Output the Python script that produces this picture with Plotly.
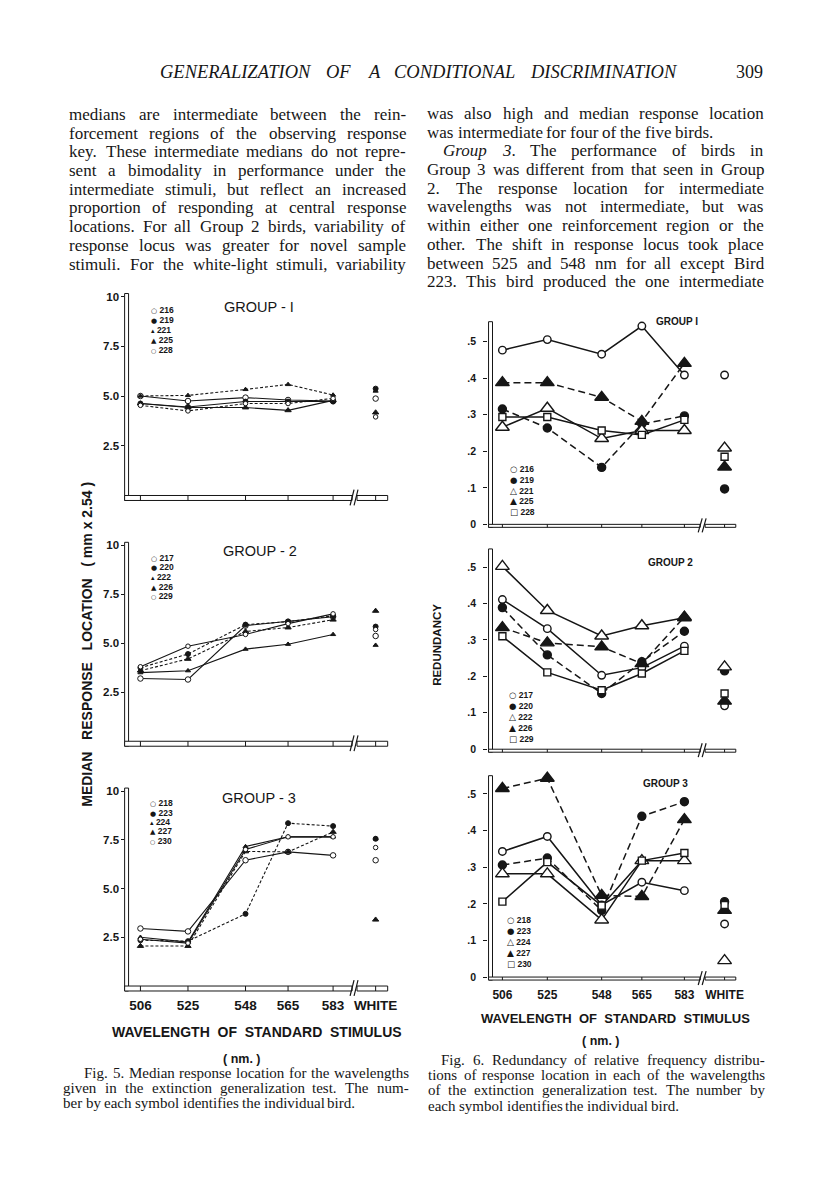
import re
import plotly.graph_objects as go

W, H = 816, 1193
INK = "#161616"

# ---------------- data ----------------
WAVELENGTHS = [506, 525, 548, 565, 583]
WHITE_POS = 600
X_TICK_TEXT = ["506", "525", "548", "565", "583", "WHITE"]

# Fig. 5  median response location (mm x 2.54)
F5_G1_BIRDS = ["216", "219", "221", "225", "228"]
F5_G1_216 = [5.0, 4.75, 4.92, 4.80, 4.75]
F5_G1_219 = [4.62, 4.45, 4.72, 4.72, 4.72]
F5_G1_221 = [5.0, 5.03, 5.33, 5.58, 5.05]
F5_G1_225 = [4.62, 4.42, 4.42, 4.28, 4.78]
F5_G1_228 = [4.53, 4.25, 4.62, 4.62, 4.88]
F5_G1_WHITE = [4.87, 5.37, 5.25, 4.17, 3.95]

F5_G2_BIRDS = ["217", "220", "222", "226", "229"]
F5_G2_217 = [3.20, 3.15, 5.90, 6.10, 6.35]
F5_G2_220 = [3.75, 4.45, 5.95, 6.10, 6.40]
F5_G2_222 = [3.50, 3.60, 4.70, 4.95, 5.45]
F5_G2_226 = [3.60, 4.20, 5.60, 5.80, 6.20]
F5_G2_229 = [3.80, 4.85, 5.45, 6.00, 6.50]
F5_G2_WHITE = [5.37, 5.85, 4.90, 6.65, 5.70]

F5_G3_BIRDS = ["218", "223", "224", "227", "230"]
F5_G3_218 = [2.95, 2.80, 6.45, 6.88, 6.70]
F5_G3_223 = [2.35, 2.30, 3.70, 8.35, 8.20]
F5_G3_224 = [2.50, 2.25, 7.15, 7.65, 7.65]
F5_G3_227 = [2.05, 2.05, 6.90, 6.88, 7.90]
F5_G3_230 = [2.40, 2.20, 7.00, 7.65, 7.65]
F5_G3_WHITE = [6.45, 7.55, 7.55, 3.40, 7.10]

# Fig. 6  redundancy
F6_G1_BIRDS = ["216", "219", "221", "225", "228"]
F6_G1_216 = [0.477, 0.506, 0.466, 0.543, 0.409]
F6_G1_219 = [0.316, 0.264, 0.156, 0.275, 0.297]
F6_G1_221 = [0.266, 0.318, 0.235, 0.257, 0.257]
F6_G1_225 = [0.388, 0.388, 0.348, 0.282, 0.441]
F6_G1_228 = [0.294, 0.294, 0.257, 0.245, 0.286]
F6_G1_WHITE = [0.409, 0.097, 0.209, 0.157, 0.185]

F6_G2_BIRDS = ["217", "220", "222", "226", "229"]
F6_G2_217 = [0.411, 0.331, 0.203, 0.224, 0.283]
F6_G2_220 = [0.389, 0.259, 0.153, 0.240, 0.324]
F6_G2_222 = [0.502, 0.381, 0.311, 0.339, 0.361]
F6_G2_226 = [0.334, 0.292, 0.281, 0.235, 0.363]
F6_G2_229 = [0.310, 0.211, 0.162, 0.208, 0.270]
F6_G2_WHITE = [0.119, 0.215, 0.226, 0.132, 0.153]

F6_G3_BIRDS = ["218", "223", "224", "227", "230"]
F6_G3_218 = [0.343, 0.384, 0.197, 0.259, 0.236]
F6_G3_223 = [0.306, 0.325, 0.182, 0.439, 0.479]
F6_G3_224 = [0.282, 0.282, 0.156, 0.318, 0.318]
F6_G3_227 = [0.515, 0.543, 0.223, 0.220, 0.430]
F6_G3_230 = [0.206, 0.314, 0.195, 0.318, 0.339]
F6_G3_WHITE = [0.145, 0.206, 0.045, 0.182, 0.197]

F5_YTICKS = [2.5, 5.0, 7.5, 10]
F5_YTICK_TEXT = ["2.5", "5.0", "7.5", "10"]
F6_YTICKS = [0, 0.1, 0.2, 0.3, 0.4, 0.5]
F6_YTICK_TEXT = ["0", ".1", ".2", ".3", ".4", ".5"]

HEADER = "GENERALIZATION OF A CONDITIONAL DISCRIMINATION"
PAGE_NO = "309"
LEFT_COL = [
    "medians are intermediate between the rein-",
    "forcement regions of the observing response",
    "key. These intermediate medians do not repre-",
    "sent a bimodality in performance under the",
    "intermediate stimuli, but reflect an increased",
    "proportion of responding at central response",
    "locations. For all Group 2 birds, variability of",
    "response locus was greater for novel sample",
    "stimuli. For the white-light stimuli, variability",
]
RIGHT_COL = [
    "was also high and median response location",
    "was intermediate for four of the five birds.",
    "<i>Group</i> <i>3</i>. The performance of birds in",
    "Group 3 was different from that seen in Group",
    "2. The response location for intermediate",
    "wavelengths was not intermediate, but was",
    "within either one reinforcement region or the",
    "other. The shift in response locus took place",
    "between 525 and 548 nm for all except Bird",
    "223. This bird produced the one intermediate",
]
CAP5 = [
    "Fig. 5. Median response location for the wavelengths",
    "given in the extinction generalization test. The num-",
    "ber by each symbol identifies the individual bird.",
]
CAP6 = [
    "Fig. 6. Redundancy of relative frequency distribu-",
    "tions of response location in each of the wavelengths",
    "of the extinction generalization test. The number by",
    "each symbol identifies the individual bird.",
]
XTITLE = "WAVELENGTH  OF  STANDARD  STIMULUS"
XUNIT = "( nm. )"
F5_YTITLE_WORDS = ["MEDIAN", "RESPONSE", "LOCATION", "( mm x 2.54 )"]
F6_YTITLE = "REDUNDANCY"

# ---------------- styles ----------------
F5_SYMBOLS = ["circle", "circle", "triangle-up", "triangle-up", "circle"]
F5_FILLED = [False, True, True, True, False]
F5_SIZES = [5.5, 5, 4.5, 5.5, 4.5]
F5_DASH = [["solid", "solid", "3px,2px", "solid", "3px,2px"],
           ["solid", "3px,2px", "solid", "3px,2px", "solid"],
           ["solid", "3px,2px", "solid", "3px,2px", "solid"]]
F5_GLYPHS = ["○", "●", "▴", "▲", "○"]
F5_GLYPH_SIZES = [7, 7, 7, 7, 6]

F6_SYMBOLS = ["circle", "circle", "triangle-up", "triangle-up", "square"]
F6_FILLED = [False, True, False, True, False]
F6_SIZES = [7.5, 8, 12, 12, 7]
F6_DASH = ["solid", "7px,4px", "solid", "7px,4px", "solid"]
F6_GLYPHS = ["○", "●", "△", "▲", "□"]
F6_GLYPH_SIZES = [8.5, 8.5, 9, 9, 8.5]

TIMES = {c: w for c, w in zip("abcdefghijklmnopqrstuvwxyz",
         [444, 500, 444, 500, 444, 333, 500, 500, 278, 278, 500, 278, 778,
          500, 500, 500, 500, 333, 389, 278, 500, 500, 722, 500, 500, 444])}
TIMES.update({c: w for c, w in zip("ABCDEFGHIJKLMNOPQRSTUVWXYZ",
              [722, 667, 667, 722, 611, 556, 722, 722, 333, 389, 722, 611, 889,
               722, 722, 556, 722, 667, 556, 611, 722, 722, 944, 722, 722, 611])})
TIMES.update({" ": 250, ".": 250, ",": 250, "-": 333, "(": 333, ")": 333})
TIMES.update({d: 500 for d in "0123456789"})
TIMES_IT_CAPS = {"A": 611, "C": 667, "D": 722, "E": 611, "F": 611, "G": 722, "I": 333,
                 "L": 556, "M": 833, "N": 667, "O": 722, "R": 611, "S": 500, "T": 556, "Z": 556}

annotations = []
shapes = []


def plain(s):
    return re.sub(r"<[^>]+>", "", s)


def tw(s, size, table=TIMES):
    return sum(table.get(c, 500) for c in plain(s)) / 1000.0 * size


def ann(text, xpx, ypx, size, family="Liberation Serif", xanchor="left", yanchor="middle",
        bold=False, italic=False, angle=0):
    annotations.append(dict(
        text=text, x=xpx / W, y=1 - ypx / H, xref="paper", yref="paper", showarrow=False,
        xanchor=xanchor, yanchor=yanchor, textangle=angle, borderpad=0, borderwidth=0,
        font=dict(family=family, size=size, color=INK, weight="bold" if bold else "normal",
                  style="italic" if italic else "normal")))


def line_words(text, x0, x1, ypx, size, justify=True, italic=False, table=TIMES):
    words = text.split(" ")
    widths = [tw(w, size, table) for w in words]
    if justify and len(words) > 1:
        gap = (x1 - x0 - sum(widths)) / (len(words) - 1)
    else:
        gap = 0.25 * size
    x = x0
    for w, wd in zip(words, widths):
        ann(w, x, ypx, size, italic=italic)
        x += wd + gap


def rect(x0, y0, x1, y1):
    shapes.append(dict(type="rect", xref="paper", yref="paper", x0=x0 / W, x1=x1 / W,
                       y0=1 - y0 / H, y1=1 - y1 / H, line=dict(color=INK, width=1),
                       fillcolor="white", layer="above"))


def seg(x0, y0, x1, y1, width=1.2):
    shapes.append(dict(type="line", xref="paper", yref="paper", x0=x0 / W, x1=x1 / W,
                       y0=1 - y0 / H, y1=1 - y1 / H, line=dict(color=INK, width=width)))


# ---------------- text ----------------
line_words(HEADER, 162, 682, 72, 18.5, justify=True, italic=True, table=TIMES_IT_CAPS)
ann(PAGE_NO, 772, 72, 18, xanchor="right")

for i, t in enumerate(LEFT_COL):
    line_words(t, 70, 410, 115 + i * 18.8, 17, justify=True)
for i, t in enumerate(RIGHT_COL):
    x0 = 448 if i == 2 else 432
    line_words(t, x0, 772, 114 + i * 18.8, 17, justify=(i != 1))

for i, t in enumerate(CAP5):
    x0 = 85 if i == 0 else 64
    line_words(t, x0, 413, 1078 + i * 15.5, 15, justify=(i < len(CAP5) - 1))
for i, t in enumerate(CAP6):
    x0 = 446 if i == 0 else 433
    line_words(t, x0, 773, 1065 + i * 15.5, 15, justify=(i < len(CAP6) - 1))

NB = "\u00a0"
ann(XTITLE.replace("  ", NB + NB), 260, 1037, 14, family="Liberation Sans", xanchor="center", bold=True)
ann(XUNIT, 245, 1064, 12.5, family="Liberation Sans", xanchor="center", bold=True)
ann(XTITLE.replace("  ", NB + NB), 622, 1024, 13, family="Liberation Sans", xanchor="center", bold=True)
ann(XUNIT, 608, 1046, 12.5, family="Liberation Sans", xanchor="center", bold=True)
ann((NB * 3).join(F5_YTITLE_WORDS), 88, 648, 14, family="Liberation Sans", xanchor="center",
    bold=True, angle=-90)
ann(F6_YTITLE, 442, 648, 11.5, family="Liberation Sans", xanchor="center", bold=True, angle=-90)

# ---------------- panels ----------------
F5_X = dict(x506=142, scale=2.53, strip=(126, 130), brk=(356, 361), right=392, sh=5)
F6_X = dict(x506=508, scale=2.39, strip=(494, 498), brk=(708, 713), right=744, sh=3)
XRANGE = [500, 605]

PANELS = [
    dict(geo=F5_X, zero=498, unit=20.0, yr=[0, 10.4], ytop=10.15, birds=F5_G1_BIRDS,
         vals=[F5_G1_216, F5_G1_219, F5_G1_221, F5_G1_225, F5_G1_228], white=F5_G1_WHITE,
         fig=5, dash=F5_DASH[0], title="GROUP - I", title_xy=(262, 309), leg_x=153,
         leg_y=[312, 322, 332, 342, 352], bottom=False),
    dict(geo=F5_X, zero=745, unit=19.7, yr=[0, 10.4], ytop=10.15, birds=F5_G2_BIRDS,
         vals=[F5_G2_217, F5_G2_220, F5_G2_222, F5_G2_226, F5_G2_229], white=F5_G2_WHITE,
         fig=5, dash=F5_DASH[1], title="GROUP - 2", title_xy=(263, 554), leg_x=153,
         leg_y=[561, 570, 580, 590, 599], bottom=False),
    dict(geo=F5_X, zero=991, unit=19.6, yr=[0, 10.4], ytop=10.15, birds=F5_G3_BIRDS,
         vals=[F5_G3_218, F5_G3_223, F5_G3_224, F5_G3_227, F5_G3_230], white=F5_G3_WHITE,
         fig=5, dash=F5_DASH[2], title="GROUP - 3", title_xy=(262, 802), leg_x=152,
         leg_y=[807, 817, 826, 835, 845], bottom=True),
    dict(geo=F6_X, zero=527, unit=367.0, yr=[0, 0.56], ytop=0.555, birds=F6_G1_BIRDS,
         vals=[F6_G1_216, F6_G1_219, F6_G1_221, F6_G1_225, F6_G1_228], white=F6_G1_WHITE,
         fig=6, dash=F6_DASH, title="GROUP I", title_xy=(685, 323), leg_x=516,
         leg_y=[471, 482, 493, 504, 515], bottom=False),
    dict(geo=F6_X, zero=753, unit=366.0, yr=[0, 0.56], ytop=0.55, birds=F6_G2_BIRDS,
         vals=[F6_G2_217, F6_G2_220, F6_G2_222, F6_G2_226, F6_G2_229], white=F6_G2_WHITE,
         fig=6, dash=F6_DASH, title="GROUP 2", title_xy=(678, 565), leg_x=515,
         leg_y=[699, 710, 721, 732, 743], bottom=False),
    dict(geo=F6_X, zero=982, unit=368.0, yr=[0, 0.56], ytop=0.55, birds=F6_G3_BIRDS,
         vals=[F6_G3_218, F6_G3_223, F6_G3_224, F6_G3_227, F6_G3_230], white=F6_G3_WHITE,
         fig=6, dash=F6_DASH, title="GROUP 3", title_xy=(673, 787), leg_x=513,
         leg_y=[925, 936, 947, 958, 969], bottom=True),
]

fig = go.Figure()
layout_axes = {}

for n, p in enumerate(PANELS, start=1):
    g = p["geo"]
    xpx = lambda nm, g=g: g["x506"] + (nm - 506) * g["scale"]
    zero, unit = p["zero"], p["unit"]
    ypx = lambda v, zero=zero, unit=unit: zero - v * unit
    f5 = p["fig"] == 5
    xa = "xaxis" if n == 1 else f"xaxis{n}"
    ya = "yaxis" if n == 1 else f"yaxis{n}"
    xr = "x" if n == 1 else f"x{n}"
    yr = "y" if n == 1 else f"y{n}"
    layout_axes[xa] = dict(
        domain=[xpx(XRANGE[0]) / W, xpx(XRANGE[1]) / W], range=XRANGE, anchor=yr,
        showgrid=False, zeroline=False, showline=False, ticks="",
        tickvals=WAVELENGTHS + [WHITE_POS], ticktext=X_TICK_TEXT,
        showticklabels=p["bottom"], ticklabelstandoff=9,
        tickfont=dict(family="Liberation Sans", size=13.5 if f5 else 12, color=INK, weight="bold"))
    layout_axes[ya] = dict(
        domain=[1 - ypx(p["yr"][0]) / H, 1 - ypx(p["yr"][1]) / H], range=p["yr"], anchor=xr,
        showgrid=False, zeroline=False, showline=False,
        tickvals=F5_YTICKS if f5 else F6_YTICKS, ticktext=F5_YTICK_TEXT if f5 else F6_YTICK_TEXT,
        ticks="outside", ticklen=3 if f5 else 4, tickwidth=1, tickcolor=INK,
        ticklabelstandoff=0 if f5 else 5,
        tickfont=dict(family="Liberation Sans", size=11.5 if f5 else 10.5, color=INK, weight="bold"))

    syms = F5_SYMBOLS if f5 else F6_SYMBOLS
    filled = F5_FILLED if f5 else F6_FILLED
    sizes = F5_SIZES if f5 else F6_SIZES
    lw = 1.1 if f5 else 1.5
    for i, bird in enumerate(p["birds"]):
        mk = dict(symbol=syms[i], size=sizes[i], color=INK if filled[i] else "white",
                  line=dict(color=INK, width=1.0 if f5 else 1.4))
        fig.add_trace(go.Scatter(
            x=WAVELENGTHS, y=p["vals"][i], mode="lines+markers", name=bird,
            line=dict(color=INK, width=lw, dash=p["dash"][i]), marker=mk,
            xaxis=xr, yaxis=yr, cliponaxis=False, showlegend=False))
        fig.add_trace(go.Scatter(
            x=[WHITE_POS], y=[p["white"][i]], mode="markers", name=bird + " white",
            marker=mk, xaxis=xr, yaxis=yr, cliponaxis=False, showlegend=False))

    # axis strips (decoration)
    s0, s1 = g["strip"]
    sh = g["sh"]
    rect(s0, ypx(p["ytop"]), s1, zero + sh)
    rect(s0, zero, g["brk"][0], zero + sh)
    rect(g["brk"][1], zero, g["right"], zero + sh)
    for wv in WAVELENGTHS + [WHITE_POS]:
        shapes.append(dict(type="line", xref=xr, yref="paper", x0=wv, x1=wv,
                           y0=1 - zero / H, y1=1 - (zero + sh) / H,
                           line=dict(color=INK, width=1)))
    b0 = g["brk"][0]
    seg(b0 - 2, zero + sh + 5, b0 + 2, zero - 6)
    seg(b0 + 2, zero + sh + 5, b0 + 6, zero - 6)

    # title and key (symbol + bird number in one label)
    tx, ty = p["title_xy"]
    if f5:
        ann(p["title"], tx, ty, 14.5, family="Liberation Sans", xanchor="center")
    else:
        ann(p["title"], tx, ty, 10, family="Liberation Sans", xanchor="center", bold=True)
    glyphs = F5_GLYPHS if f5 else F6_GLYPHS
    gsz = F5_GLYPH_SIZES if f5 else F6_GLYPH_SIZES
    for i, bird in enumerate(p["birds"]):
        ly = p["leg_y"][i]
        label = (f"<span style='font-family:DejaVu Sans;font-size:{gsz[i]}px'>{glyphs[i]}</span>"
                 f"{NB}<b>{bird}</b>")
        ann(label, p["leg_x"], ly, 8.5, family="Liberation Sans")

fig.update_layout(
    width=W, height=H, autosize=False, margin=dict(l=0, r=0, t=0, b=0),
    paper_bgcolor="white", plot_bgcolor="white", showlegend=False,
    annotations=annotations, shapes=shapes, **layout_axes)

fig.write_html("out.html", config={"displayModeBar": False},
               post_script="document.body.style.margin='0';")
